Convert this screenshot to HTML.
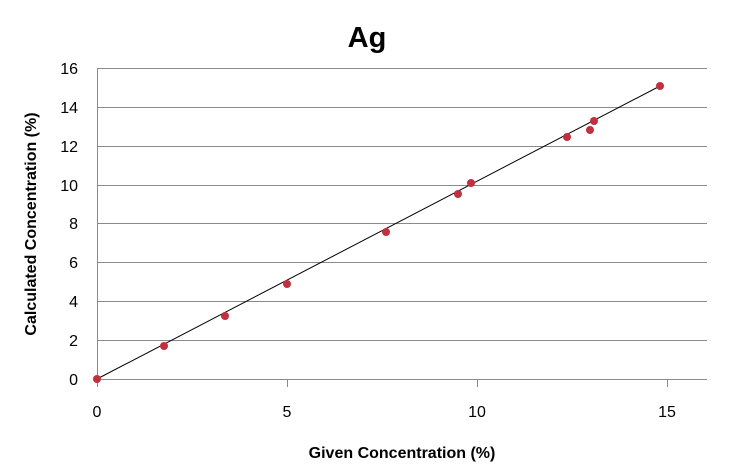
<!DOCTYPE html>
<html><head><style>body{margin:0;background:#fff}</style></head><body>
<svg width="735" height="465" xmlns="http://www.w3.org/2000/svg" font-family="Liberation Sans, sans-serif">
<rect width="735" height="465" fill="#fff"/>
<text x="367" y="47" font-size="29" font-weight="bold" text-anchor="middle">Ag</text>
<g stroke="#8a8a8a" stroke-width="1">
<line x1="97" y1="68.5" x2="707" y2="68.5"/>
<line x1="97" y1="107.5" x2="707" y2="107.5"/>
<line x1="97" y1="146.5" x2="707" y2="146.5"/>
<line x1="97" y1="185.5" x2="707" y2="185.5"/>
<line x1="97" y1="223.5" x2="707" y2="223.5"/>
<line x1="97" y1="262.5" x2="707" y2="262.5"/>
<line x1="97" y1="301.5" x2="707" y2="301.5"/>
<line x1="97" y1="340.5" x2="707" y2="340.5"/>
<line x1="97" y1="379.5" x2="707" y2="379.5"/>
<line x1="97.5" y1="68" x2="97.5" y2="387"/>
<line x1="287.5" y1="379" x2="287.5" y2="387"/>
<line x1="477.5" y1="379" x2="477.5" y2="387"/>
<line x1="667.5" y1="379" x2="667.5" y2="387"/>
</g>
<g font-size="16" text-anchor="end" fill="#000">
<text x="78" y="74">16</text><text x="78" y="113">14</text><text x="78" y="152">12</text>
<text x="78" y="191">10</text><text x="78" y="229">8</text><text x="78" y="268">6</text>
<text x="78" y="307">4</text><text x="78" y="346">2</text><text x="78" y="385">0</text>
</g>
<g font-size="16" text-anchor="middle">
<text x="97" y="417">0</text><text x="287" y="417">5</text><text x="477" y="417">10</text><text x="667" y="417">15</text>
</g>
<text x="402" y="458" font-size="16" font-weight="bold" text-anchor="middle">Given Concentration (%)</text>
<text transform="translate(36,224) rotate(-90)" font-size="16" font-weight="bold" text-anchor="middle">Calculated Concentration (%)</text>
<line x1="97" y1="379" x2="660" y2="86" stroke="#000" stroke-width="1"/>
<g fill="#c0303f">
<circle cx="97" cy="379" r="4"/><circle cx="164" cy="346" r="4"/><circle cx="225" cy="316" r="4"/>
<circle cx="287" cy="284" r="4"/><circle cx="386" cy="232" r="4"/><circle cx="458" cy="194" r="4"/>
<circle cx="471" cy="183" r="4"/><circle cx="567" cy="137" r="4"/><circle cx="590" cy="130" r="4"/>
<circle cx="594" cy="121" r="4"/><circle cx="660" cy="86" r="4"/>
</g>
</svg>
</body></html>
